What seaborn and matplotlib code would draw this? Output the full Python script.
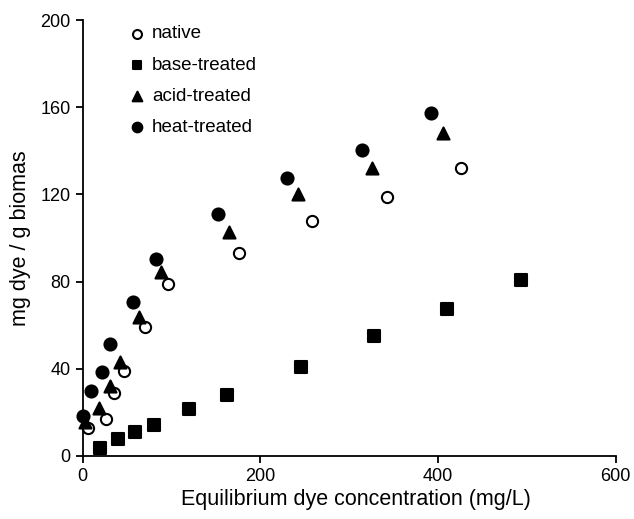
import matplotlib
matplotlib.use("Agg")
import matplotlib.pyplot as plt
import seaborn as sns
import pandas as pd

native_x = [6.3, 25.9, 35.6, 46.8, 70.2, 95.7, 176.4, 258.6, 343.0, 425.7]
native_y = [12.7, 17.0, 29.1, 39.1, 59.4, 79.1, 93.2, 107.7, 118.9, 132.3]

base_x = [19.5, 39.4, 58.9, 80.6, 120.0, 162.8, 245.5, 328.0, 410.6, 493.2]
base_y = [3.5, 7.7, 11.2, 14.3, 21.6, 28.0, 40.8, 54.9, 67.6, 80.9]

acid_x = [2.6, 18.7, 30.7, 42.0, 63.4, 88.2, 165.1, 242.1, 326.1, 405.4]
acid_y = [15.8, 22.2, 32.2, 43.1, 63.8, 84.3, 102.7, 120.3, 132.3, 148.0]

heat_x = [0.5, 9.3, 22.1, 30.7, 57.0, 82.2, 152.7, 230.4, 314.9, 392.5]
heat_y = [18.5, 29.9, 38.5, 51.5, 70.5, 90.2, 111.0, 127.7, 140.4, 157.2]

x_ticks = [0, 200, 400, 600]
y_ticks = [0, 40, 80, 120, 160, 200]

sns.set_style("ticks")
plt.rcParams['font.family'] = ['Liberation Sans', 'DejaVu Sans']
plt.rcParams['text.color'] = 'black'
plt.rcParams['axes.labelcolor'] = 'black'

fig = plt.figure(figsize=(6.34, 5.19), dpi=100)
ax = fig.add_axes([0.1304, 0.1214, 0.8407, 0.840])

series = [
    ("native", native_x, native_y, "o", "white", 65),
    ("base-treated", base_x, base_y, "s", "black", 65),
    ("acid-treated", acid_x, acid_y, "^", "black", 75),
    ("heat-treated", heat_x, heat_y, "o", "black", 75),
]
for name, xs, ys, mk, fc, s in series:
    df = pd.DataFrame({"x": xs, "y": ys})
    sns.scatterplot(data=df, x="x", y="y", ax=ax, marker=mk, s=s,
                    facecolor=fc, edgecolor="black", linewidth=1.5,
                    label=name, clip_on=False, zorder=3)

ax.set_xlim(0, 600)
ax.set_ylim(0, 200)
ax.set_xticks(x_ticks)
ax.set_yticks(y_ticks)
ax.tick_params(direction="out", length=5, width=1.3, labelsize=13,
               colors="black", labelcolor="black")
for side in ["top", "right"]:
    ax.spines[side].set_visible(False)
for side in ["left", "bottom"]:
    ax.spines[side].set_linewidth(1.3)
    ax.spines[side].set_color("black")

ax.set_xlabel("Equilibrium dye concentration (mg/L)", fontsize=15.5, labelpad=3, color="black")
ax.xaxis.set_label_coords(0.512, -0.075)
ax.set_ylabel("mg dye / g biomas", fontsize=15.5, labelpad=7, color="black")

leg = ax.legend(loc="upper left", bbox_to_anchor=(0.07, 1.005), frameon=False,
                fontsize=13.5, markerscale=0.8, handletextpad=0.3, labelspacing=0.75,
                handlelength=1.0, borderaxespad=0.0)
for t in leg.get_texts():
    t.set_color("black")

fig.savefig("out.png", dpi=100)
